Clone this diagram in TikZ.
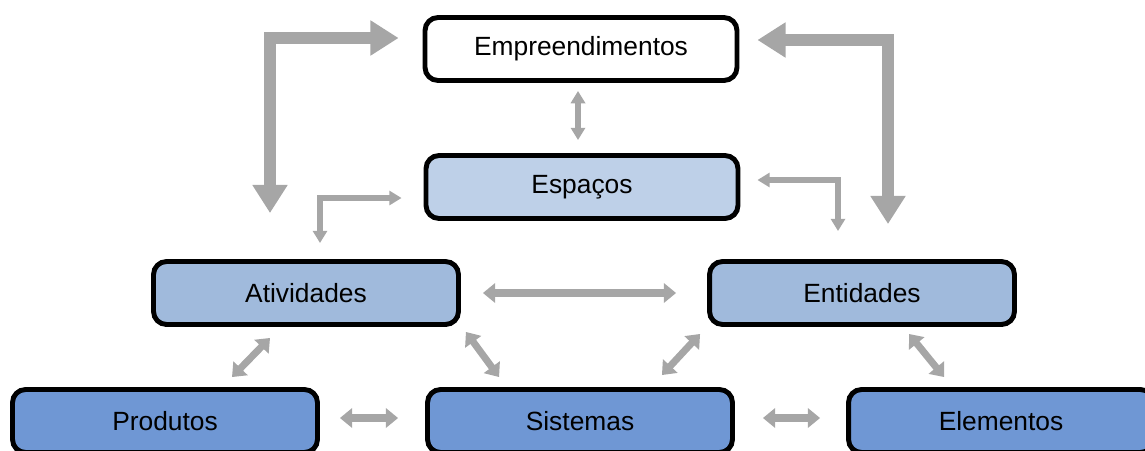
\documentclass[tikz,border=0pt]{standalone}
\usepackage{fontspec}
\setmainfont{Liberation Sans}
\usetikzlibrary{arrows.meta}
\definecolor{cinza}{RGB}{166,166,166}
\definecolor{azulclaro}{RGB}{190,208,232}
\definecolor{azulmedio}{RGB}{160,186,220}
\definecolor{azulforte}{RGB}{111,151,212}
\tikzset{
  caixa/.style={draw=black, line width=2.8pt, rounded corners=0.26cm, minimum height=1.26cm,
    minimum width=6.1cm, font=\fontsize{15}{18}\selectfont},
  setagrande/.style={draw=cinza, line width=6.8pt, line join=miter, {Triangle[length=16pt,width=19pt]}-{Triangle[length=16pt,width=19pt]}},
  setamedia/.style={draw=cinza, line width=4pt, {Triangle[length=7pt,width=11pt]}-{Triangle[length=7pt,width=11pt]}},
  setapequena/.style={draw=cinza, line width=3.4pt, line join=miter, {Triangle[length=7pt,width=8pt]}-{Triangle[length=7pt,width=8pt]}}
}

\begin{document}
\begin{tikzpicture}[x=0.02cm, y=-0.02cm]
      \useasboundingbox (0,0) rectangle (1145,450);
      \node[caixa, fill=white, minimum width=6.24cm] (emp) at (581,49) {Empreendimentos};
      \node[caixa, fill=azulclaro, minimum width=6.24cm] (esp) at (582,187) {Espaços};
      \node[caixa, fill=azulmedio] (ativ) at (306,293) {Atividades};
      \node[caixa, fill=azulmedio] (ent) at (862,293) {Entidades};
      \node[caixa, fill=azulforte] (prod) at (165,421) {Produtos};
      \node[caixa, fill=azulforte] (sis) at (580,421) {Sistemas};
      \node[caixa, fill=azulforte] (elem) at (1001,421) {Elementos};

      \draw[setagrande] ([shift={(-24,-11)}]emp.west) -| ([shift={(-36,-46)}]ativ.north);
      \draw[setagrande] ([shift={(18,-9)}]emp.east) -| ([shift={(26,-35)}]ent.north);
      \draw[setapequena] ([shift={(-22,11)}]esp.west) -| ([shift={(14,-16)}]ativ.north);
      \draw[setapequena] ([shift={(17,-7)}]esp.east) -| ([shift={(-24,-28)}]ent.north);
      \draw[setapequena] ([shift={(-3,8)}]emp.south) -- ([shift={(-4,-13)}]esp.north);

      \draw[setamedia] ([shift={(22,0)}]ativ.east) -- ([shift={(-31,0)}]ent.west);
      \draw[setamedia] ([shift={(20,-3)}]prod.east) -- ([shift={(-27,-3)}]sis.west);
      \draw[setamedia] ([shift={(28,-3)}]sis.east) -- ([shift={(-26,-3)}]elem.west);
      \draw[setamedia] ([shift={(-36,11)}]ativ.south) -- ([shift={(67,-10)}]prod.north);
      \draw[setamedia] ([shift={(5,5)}]ativ.south east) -- ([shift={(74,-10)}]sis.north west);
      \draw[setamedia] ([shift={(-7,7)}]ent.south west) -- ([shift={(-73,-12)}]sis.north east);
      \draw[setamedia] ([shift={(47,7)}]ent.south) -- ([shift={(98,-10)}]elem.north west);

    \end{tikzpicture}
\end{document}
